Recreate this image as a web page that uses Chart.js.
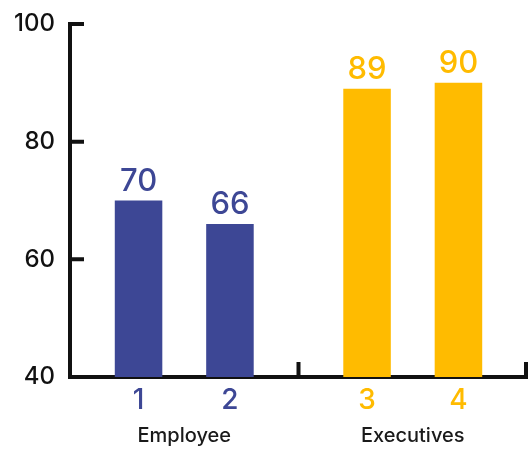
<!DOCTYPE html>
<html>
<head>
<meta charset="utf-8">
<script src="https://cdn.jsdelivr.net/npm/chart.js@4/dist/chart.umd.min.js"></script>
<style>
  body { margin: 0; background: #fff; }
  #wrap { width: 529px; height: 450px; }
</style>
</head>
<body>
<div id="wrap"><canvas id="scoreChart"></canvas></div>
<script>
// groups along the x axis, two bars in each
const groups = ["Employee", "Executives"];
const firstBarIds = ["1", "3"];
const firstBarValues = [70, 89];
const secondBarIds = ["2", "4"];
const secondBarValues = [66, 90];
const groupColors = ["#3d4795", "#ffbb00"];

const FONT = "Inter, 'Open Sans', sans-serif";
const INK = "#111";

// draws value labels, bar ids and the small inward ticks
const extras = {
  id: "extras",
  afterDatasetsDraw(chart) {
    const ctx = chart.ctx;
    const area = chart.chartArea;
    const ids = [firstBarIds, secondBarIds];
    ctx.save();
    ctx.textAlign = "center";
    chart.data.datasets.forEach((ds, d) => {
      chart.getDatasetMeta(d).data.forEach((bar, i) => {
        ctx.fillStyle = groupColors[i];
        // value above the bar
        ctx.font = "500 31px " + FONT;
        ctx.textBaseline = "alphabetic";
        ctx.fillText(String(ds.data[i]), bar.x, bar.y - 10);
        // bar number under the axis
        ctx.font = "500 28px " + FONT;
        ctx.textBaseline = "middle";
        ctx.fillText(ids[d][i], bar.x, area.bottom + 24);
      });
    });

    // inward ticks on the y axis
    const y = chart.scales.y;
    ctx.strokeStyle = INK;
    ctx.lineWidth = 4;
    ctx.beginPath();
    y.ticks.forEach((t) => {
      if (t.value === y.min) return;
      const py = y.getPixelForValue(t.value);
      ctx.moveTo(area.left, py);
      ctx.lineTo(area.left + 14, py);
    });
    // group separators on the x axis
    const x = chart.scales.x;
    const mid = (x.getPixelForValue(0) + x.getPixelForValue(1)) / 2;
    [mid, area.right - 1].forEach((px) => {
      ctx.moveTo(px, area.bottom);
      ctx.lineTo(px, area.bottom - 15);
    });
    ctx.stroke();
    ctx.restore();
  },
};

new Chart(document.getElementById("scoreChart"), {
  type: "bar",
  data: {
    labels: groups,
    datasets: [
      { label: "first", data: firstBarValues, backgroundColor: groupColors },
      { label: "second", data: secondBarValues, backgroundColor: groupColors },
    ],
  },
  options: {
    responsive: true,
    maintainAspectRatio: false,
    animation: false,
    layout: { padding: { top: 24, right: 2, left: 0, bottom: 0 } },
    plugins: { legend: { display: false }, tooltip: { enabled: false } },
    datasets: { bar: { categoryPercentage: 0.8, barPercentage: 0.52 } },
    scales: {
      x: {
        grid: { display: false, drawTicks: false },
        border: { color: INK, width: 4 },
        ticks: { color: "#1a1a1a", font: { family: FONT, size: 20, weight: "500" }, padding: 47 },
        afterFit: (s) => { s.height = 73; },
      },
      y: {
        min: 40,
        max: 100,
        grid: { display: false, drawTicks: false },
        border: { color: INK, width: 4 },
        ticks: { stepSize: 20, color: INK, font: { family: FONT, size: 24, weight: "500" }, padding: 15 },
        afterFit: (s) => {
          s.width = 70;
          // let the layout padding alone decide the top edge
          s.paddingTop = 0;
          s.paddingBottom = 0;
        },
      },
    },
  },
  plugins: [extras],
});
</script>
</body>
</html>
